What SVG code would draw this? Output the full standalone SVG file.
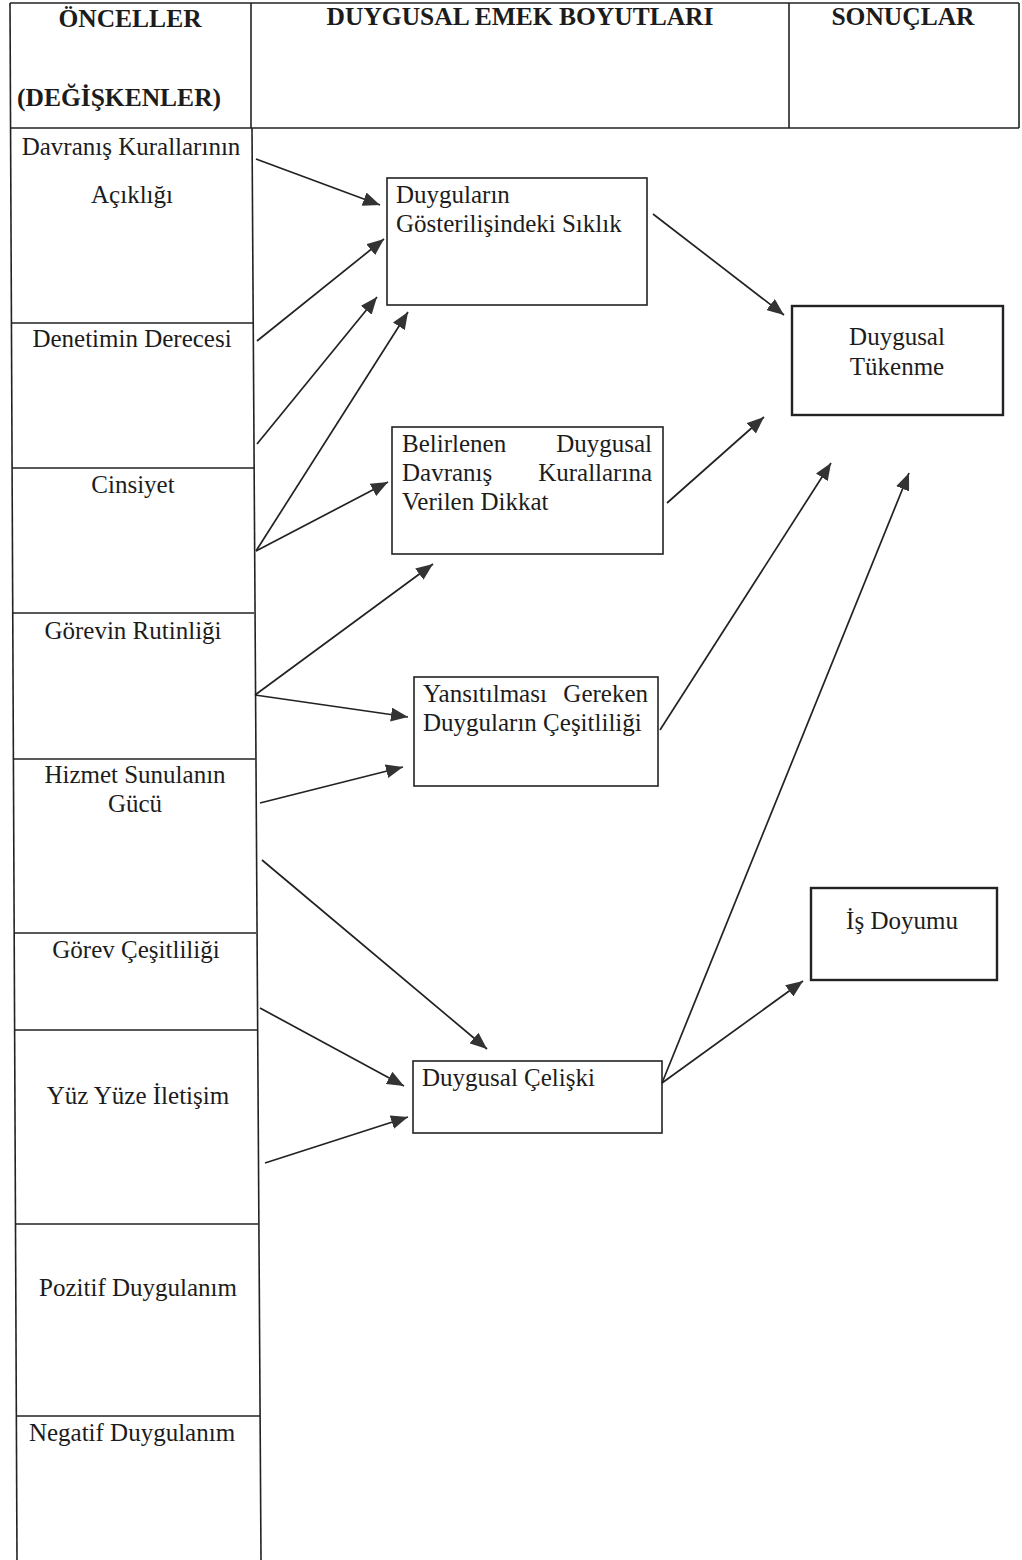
<svg xmlns="http://www.w3.org/2000/svg" width="1022" height="1560" viewBox="0 0 1022 1560">
<style>
.t{font-family:"Liberation Serif","Times New Roman",serif;font-size:25px;fill:#1c1c1c}
.h{font-family:"Liberation Serif","Times New Roman",serif;font-size:25.5px;font-weight:bold;fill:#1c1c1c}
.c{text-anchor:middle}
.e{text-anchor:end}
.tbl{stroke:#222;stroke-width:1.6;fill:none}
.box{stroke:#222;stroke-width:1.6;fill:none}
.thick{stroke:#222;stroke-width:2.4;fill:none}
.arr{stroke:#222;stroke-width:1.7;fill:none;marker-end:url(#ah)}
</style>
<defs>
<marker id="ah" markerUnits="userSpaceOnUse" markerWidth="18" markerHeight="14" refX="17" refY="7" orient="auto">
<path d="M0,0 L17,7 L0,14 z" fill="#333"/>
</marker>
</defs>
<rect x="0" y="0" width="1022" height="1560" fill="#fff"/>

<g id="table">
<line class="tbl" x1="10" y1="3" x2="1019" y2="3"/>
<line class="tbl" x1="10" y1="128" x2="1019" y2="128"/>
<line class="tbl" x1="1019" y1="3" x2="1019" y2="128"/>
<line class="tbl" x1="251" y1="3" x2="251" y2="128"/>
<line class="tbl" x1="789" y1="3" x2="789" y2="128"/>
<line class="tbl" x1="10" y1="3" x2="17" y2="1560"/>
<line class="tbl" x1="252" y1="128" x2="261" y2="1560"/>
<line class="tbl" x1="11" y1="323" x2="253" y2="323"/>
<line class="tbl" x1="12" y1="468" x2="254" y2="468"/>
<line class="tbl" x1="13" y1="613" x2="254" y2="613"/>
<line class="tbl" x1="13" y1="759" x2="255" y2="759"/>
<line class="tbl" x1="14" y1="933" x2="256" y2="933"/>
<line class="tbl" x1="15" y1="1030" x2="257" y2="1030"/>
<line class="tbl" x1="16" y1="1224" x2="258" y2="1224"/>
<line class="tbl" x1="17" y1="1416" x2="260" y2="1416"/>
</g>

<g id="headers">
<text class="h c" x="130" y="27">ÖNCELLER</text>
<text class="h" x="17" y="106">(DEĞİŞKENLER)</text>
<text class="h c" x="520" y="25">DUYGUSAL EMEK BOYUTLARI</text>
<text class="h c" x="903" y="25">SONUÇLAR</text>
</g>

<g id="antecedents">
<text class="t c" x="131" y="155">Davranış Kurallarının</text>
<text class="t c" x="132" y="203">Açıklığı</text>
<text class="t c" x="132" y="347">Denetimin Derecesi</text>
<text class="t c" x="133" y="493">Cinsiyet</text>
<text class="t c" x="133" y="639">Görevin Rutinliği</text>
<text class="t c" x="135" y="783">Hizmet Sunulanın</text>
<text class="t c" x="135" y="812">Gücü</text>
<text class="t c" x="136" y="958">Görev Çeşitliliği</text>
<text class="t c" x="138" y="1104">Yüz Yüze İletişim</text>
<text class="t c" x="138" y="1296">Pozitif Duygulanım</text>
<text class="t c" x="132" y="1441">Negatif Duygulanım</text>
</g>

<g id="node-siklik">
<rect class="box" x="387" y="178" width="260" height="127"/>
<text class="t" x="396" y="203">Duyguların</text>
<text class="t" x="396" y="232">Gösterilişindeki Sıklık</text>
</g>

<g id="node-dikkat">
<rect class="box" x="392" y="427" width="271" height="127"/>
<text class="t" x="402" y="452">Belirlenen</text>
<text class="t e" x="652" y="452">Duygusal</text>
<text class="t" x="402" y="481">Davranış</text>
<text class="t e" x="652" y="481">Kurallarına</text>
<text class="t" x="402" y="510">Verilen Dikkat</text>
</g>

<g id="node-cesitlilik">
<rect class="box" x="414" y="677" width="244" height="109"/>
<text class="t" x="423" y="702">Yansıtılması</text>
<text class="t e" x="648" y="702">Gereken</text>
<text class="t" x="423" y="731">Duyguların Çeşitliliği</text>
</g>

<g id="node-celiski">
<rect class="box" x="413" y="1061" width="249" height="72"/>
<text class="t" x="422" y="1086">Duygusal Çelişki</text>
</g>

<g id="node-tukenme">
<rect class="thick" x="792" y="306" width="211" height="109"/>
<text class="t c" x="897" y="345">Duygusal</text>
<text class="t c" x="897" y="375">Tükenme</text>
</g>

<g id="node-doyum">
<rect class="thick" x="811" y="888" width="186" height="92"/>
<text class="t c" x="902" y="929">İş Doyumu</text>
</g>

<g id="connectors">
<line class="arr" x1="256" y1="159" x2="380" y2="205"/>
<line class="arr" x1="257" y1="341" x2="384" y2="239"/>
<line class="arr" x1="257" y1="444" x2="377" y2="297"/>
<line class="arr" x1="256" y1="551" x2="408" y2="312"/>
<line class="arr" x1="256" y1="551" x2="388" y2="482"/>
<line class="arr" x1="255" y1="695" x2="433" y2="564"/>
<line class="arr" x1="255" y1="695" x2="408" y2="717"/>
<line class="arr" x1="260" y1="803" x2="403" y2="767"/>
<line class="arr" x1="262" y1="860" x2="487" y2="1049"/>
<line class="arr" x1="260" y1="1008" x2="404" y2="1086"/>
<line class="arr" x1="265" y1="1163" x2="408" y2="1117"/>
<line class="arr" x1="653" y1="214" x2="784" y2="315"/>
<line class="arr" x1="667" y1="503" x2="764" y2="417"/>
<line class="arr" x1="660" y1="730" x2="831" y2="463"/>
<line class="arr" x1="662" y1="1083" x2="909" y2="473"/>
<line class="arr" x1="662" y1="1083" x2="803" y2="981"/>
</g>
</svg>
